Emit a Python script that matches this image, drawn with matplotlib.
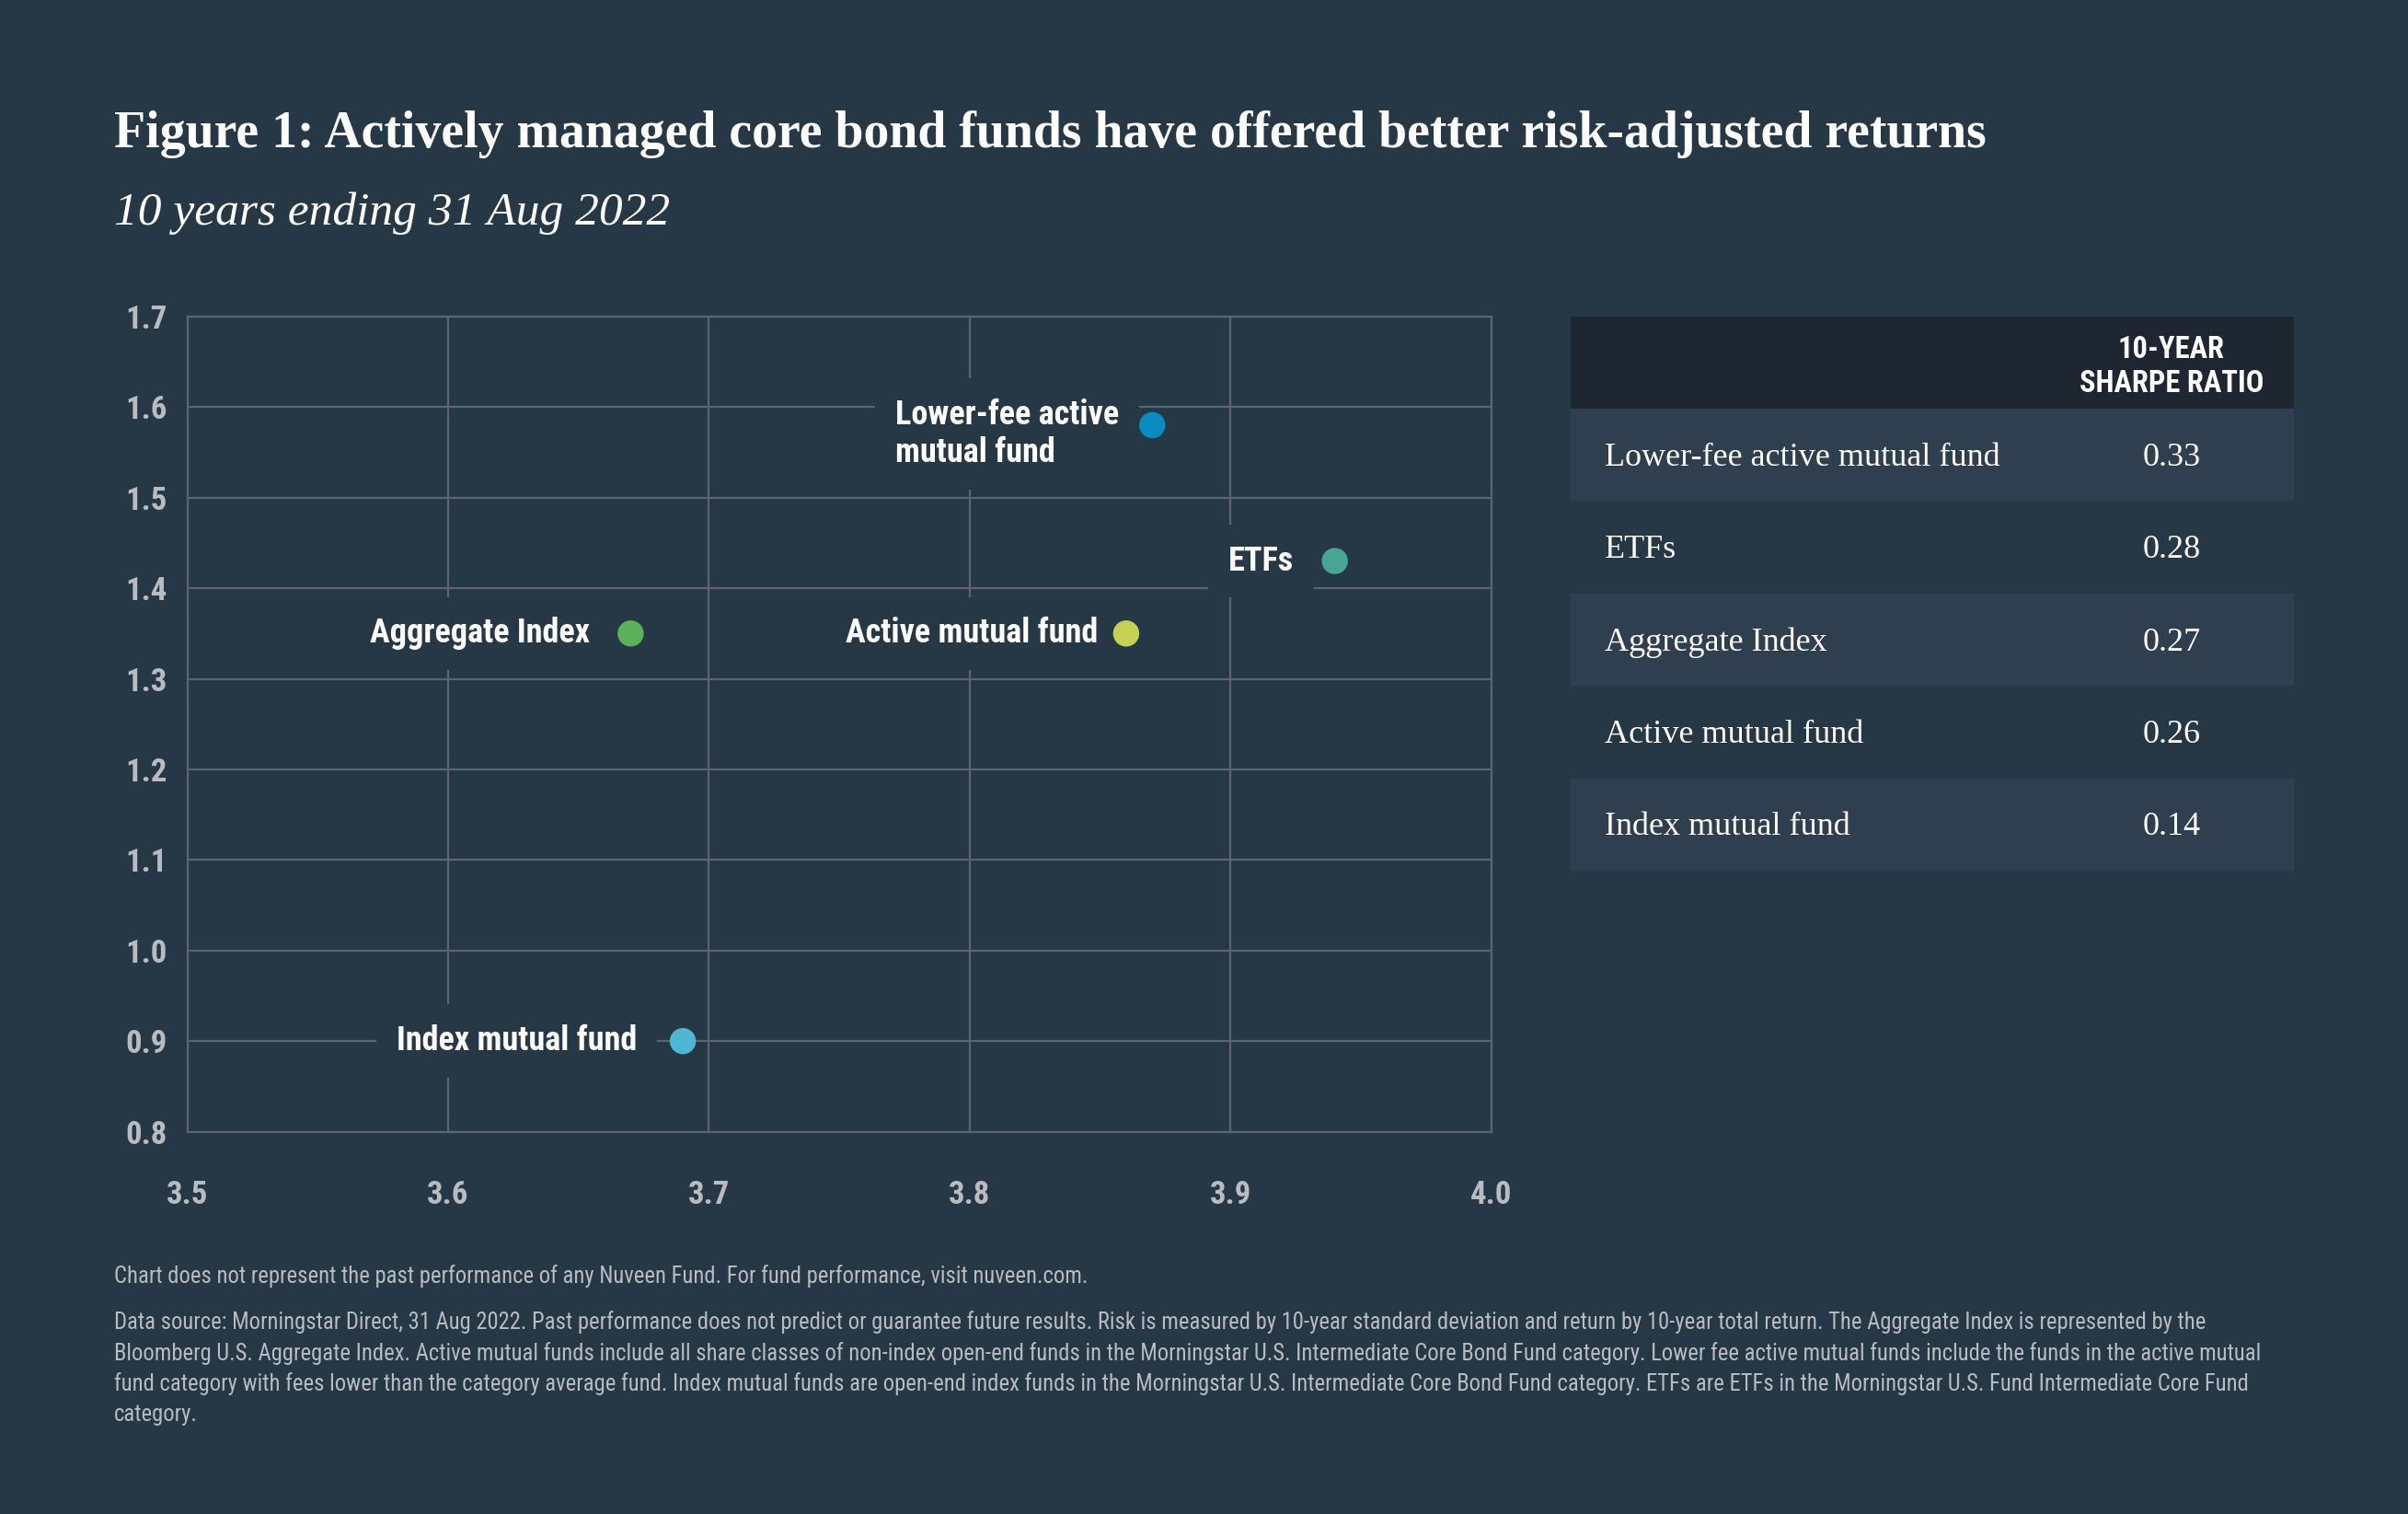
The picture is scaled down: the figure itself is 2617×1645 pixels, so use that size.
import matplotlib
matplotlib.use('Agg')
import matplotlib.pyplot as plt
from matplotlib import font_manager
from matplotlib.patches import Rectangle

# data
funds = ['Lower-fee active mutual fund', 'ETFs', 'Aggregate Index',
         'Active mutual fund', 'Index mutual fund']
point_labels = ['Lower-fee active\nmutual fund', 'ETFs', 'Aggregate Index',
                'Active mutual fund', 'Index mutual fund']
risk = [3.87, 3.94, 3.67, 3.86, 3.69]
ret = [1.58, 1.43, 1.35, 1.35, 0.90]
sharpe = ['0.33', '0.28', '0.27', '0.26', '0.14']
dot_colors = ['#0a8cc2', '#47a593', '#5bb05a', '#c4d152', '#4fb7d3']
x_ticks = [3.5, 3.6, 3.7, 3.8, 3.9, 4.0]
y_ticks = [0.8, 0.9, 1.0, 1.1, 1.2, 1.3, 1.4, 1.5, 1.6, 1.7]

title = 'Figure 1: Actively managed core bond funds have offered better risk-adjusted returns'
subtitle = '10 years ending 31 Aug 2022'
note = 'Chart does not represent the past performance of any Nuveen Fund. For fund performance, visit nuveen.com.'
source = ('Data source: Morningstar Direct, 31 Aug 2022. Past performance does not predict or guarantee future results. Risk is measured by 10-year standard deviation and return by 10-year total return. The Aggregate Index is represented by the\n'
          'Bloomberg U.S. Aggregate Index. Active mutual funds include all share classes of non-index open-end funds in the Morningstar U.S. Intermediate Core Bond Fund category. Lower fee active mutual funds include the funds in the active mutual\n'
          'fund category with fees lower than the category average fund. Index mutual funds are open-end index funds in the Morningstar U.S. Intermediate Core Bond Fund category. ETFs are ETFs in the Morningstar U.S. Fund Intermediate Core Fund\n'
          'category.')

BG = '#263746'
GRID = '#5b6470'
HEAD = '#1d2631'
ROW = '#2f3f50'
TICK = '#b8bbbf'
S = 2617 / 1568  # reference preview px -> output px

names = {f.name for f in font_manager.fontManager.ttflist}
NARROW = 'DejaVu Sans'
for cand in ['Liberation Sans Narrow', 'Roboto Condensed', 'Open Sans Condensed', 'Roboto']:
    if cand in names:
        NARROW = cand
        break
SERIF = 'Liberation Serif' if 'Liberation Serif' in names else 'DejaVu Serif'

fig = plt.figure(figsize=(26.17, 16.45), dpi=100, facecolor=BG)
renderer = fig.canvas.get_renderer()


def fit(t, width):
    # scale font size so the text spans `width` preview pixels
    w = t.get_window_extent(renderer).width
    t.set_fontsize(t.get_fontsize() * width * S / w)
    return t.get_fontsize()


t = fig.text(0.0472, 0.911, title, fontsize=34, fontweight='bold', family=SERIF,
             color='white', va='center')
fit(t, 1221)
t = fig.text(0.0472, 0.859, subtitle, fontsize=30, style='italic', family=SERIF,
             color='white', va='center')
fit(t, 362)

# scatter
ax = fig.add_axes([0.0778, 0.2525, 0.5415, 0.5385])
ax.set_facecolor(BG)
ax.set_xlim(3.5, 4.0)
ax.set_ylim(0.8, 1.7)
ax.set_xticks(x_ticks)
ax.set_yticks(y_ticks)
ax.set_xticklabels([f'{v:.1f}' for v in x_ticks])
ax.set_yticklabels([f'{v:.1f}' for v in y_ticks])
ax.grid(True, color=GRID, linewidth=1.6)
ax.set_axisbelow(True)
for s in ax.spines.values():
    s.set_color(GRID)
    s.set_linewidth(1.6)
ax.tick_params(length=0, labelcolor=TICK, labelsize=25)
ax.tick_params(axis='y', pad=16)
ax.tick_params(axis='x', pad=38)
for lbl in ax.get_xticklabels() + ax.get_yticklabels():
    lbl.set_family(NARROW)
    lbl.set_fontweight('bold')

ax.scatter(risk, ret, s=420, c=dot_colors, zorder=5, linewidths=0)
probe = fig.text(0, 0, 'Index mutual fund', fontsize=25, fontweight='bold', family=NARROW)
lab_size = fit(probe, 157)
probe.remove()
gaps = [26, 32, 32, 22, 36]
for i, lab in enumerate(point_labels):
    multi = '\n' in lab
    ax.annotate(lab, (risk[i], ret[i]), xytext=(-gaps[i], -7 if multi else 0),
                textcoords='offset points', ha='right', va='center',
                multialignment='left', fontsize=lab_size, fontweight='bold',
                family=NARROW, color='white', linespacing=1.2, zorder=4,
                bbox=dict(boxstyle='square,pad=0.6', facecolor=BG, edgecolor='none'))

# table
tax = fig.add_axes([0.6524, 0.425, 0.3004, 0.366])
tax.set_xlim(0, 1)
tax.set_ylim(0, 6)
tax.axis('off')
tax.add_patch(Rectangle((0, 5), 1, 1, facecolor=HEAD, edgecolor='none'))
h = tax.text(0.83, 5.45, '10-YEAR\nSHARPE RATIO', ha='center', va='center',
             fontsize=22, fontweight='bold', family=NARROW, color='white',
             linespacing=1.2)
fit(h, 120)
probe = fig.text(0, 0, funds[0], fontsize=23, family=SERIF)
row_size = fit(probe, 258)
probe.remove()
for i, name in enumerate(funds):
    y0 = 4 - i
    if i % 2 == 0:
        tax.add_patch(Rectangle((0, y0), 1, 1, facecolor=ROW, edgecolor='none'))
    tax.text(0.047, y0 + 0.47, name, ha='left', va='center', fontsize=row_size,
             family=SERIF, color='white')
    tax.text(0.83, y0 + 0.47, sharpe[i], ha='center', va='center', fontsize=row_size,
             family=SERIF, color='white')

# footer
n = fig.text(0.0472, 0.157, note, fontsize=17, family=NARROW, color=TICK, va='center')
foot_size = fit(n, 632)
src = fig.text(0.0472, 0.1345, source, fontsize=foot_size, family=NARROW, color=TICK,
               va='top', linespacing=1.45)
w = src.get_window_extent(renderer).width
if w > 1397 * S:
    foot_size = foot_size * 1397 * S / w
    src.set_fontsize(foot_size)
    n.set_fontsize(foot_size)

fig.savefig('out.png', dpi=100, facecolor=BG)
